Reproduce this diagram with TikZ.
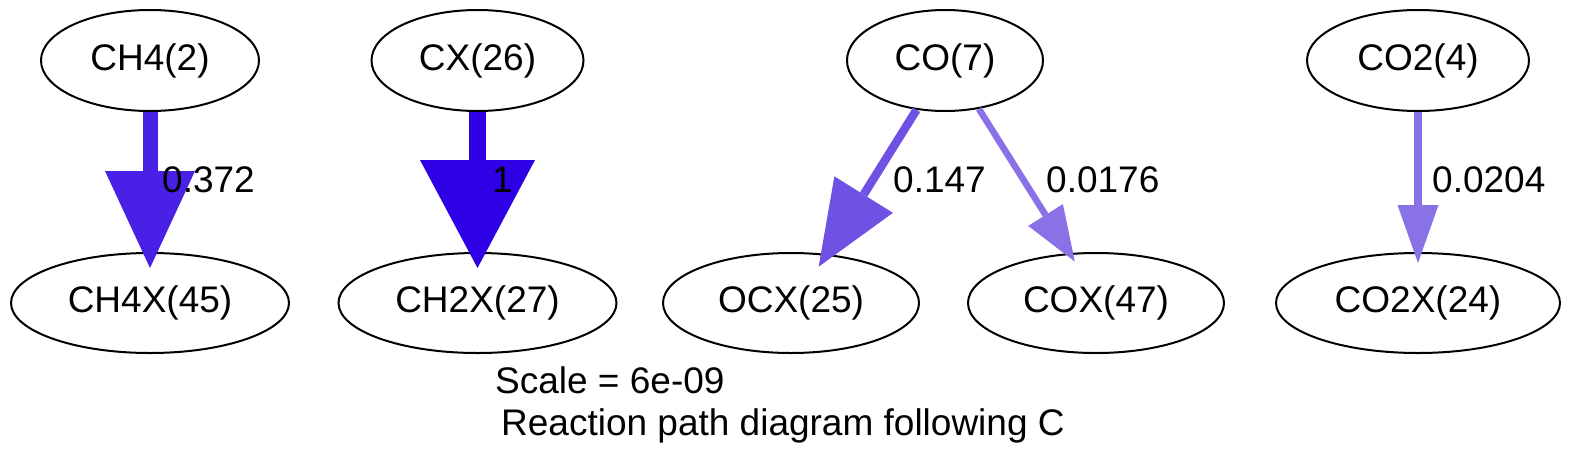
\documentclass[tikz,border=0pt]{standalone}
\usepackage{fontspec}
\setmainfont{Liberation Sans}
\usetikzlibrary{shapes.geometric,arrows.meta}
\definecolor{fluxA}{RGB}{72,32,230}
\definecolor{fluxB}{RGB}{46,0,230}
\definecolor{fluxC}{RGB}{111,82,228}
\definecolor{fluxD}{RGB}{138,114,230}
\definecolor{fluxE}{RGB}{137,114,230}
\tikzset{
  species/.style={ellipse, draw=black, line width=2pt, inner sep=0pt,
    font=\fontsize{37}{44}\selectfont},
  toprow/.style={minimum height=101pt},
  botrow/.style={minimum height=100pt},
  flux/.style={font=\fontsize{37}{44}\selectfont, anchor=base west, inner sep=0pt},
  title/.style={font=\fontsize{37}{44}\selectfont, anchor=base west, inner sep=0pt},
}
\begin{document}
\begin{tikzpicture}[x=1pt,y=-1pt]
\useasboundingbox[fill=white] (0,0) rectangle (1572,469);
% top row
\node[species,toprow,minimum width=218pt] (ch4) at (150,60.5) {CH4(2)};
\node[species,toprow,minimum width=212pt] (cx) at (477.5,60.5) {CX(26)};
\node[species,toprow,minimum width=196pt] (co) at (945,60.5) {CO(7)};
\node[species,toprow,minimum width=222pt] (co2) at (1418,60.5) {CO2(4)};
% bottom row
\node[species,botrow,minimum width=278pt] (ch4x) at (150,303) {CH4X(45)};
\node[species,botrow,minimum width=278pt] (ch2x) at (477.5,303) {CH2X(27)};
\node[species,botrow,minimum width=256pt] (ocx) at (791,303) {OCX(25)};
\node[species,botrow,minimum width=256pt] (cox) at (1096,303) {COX(47)};
\node[species,botrow,minimum width=284pt] (co2x) at (1418,303) {CO2X(24)};
% edges
\draw[fluxA, line width=15pt, shorten >=-16pt,
  -{Triangle[length=97pt,width=90pt,line width=0pt]}] (ch4.south) -- (ch4x.north);
\draw[fluxB, line width=17pt, shorten >=-16pt,
  -{Triangle[length=108pt,width=115pt,line width=0pt]}] (cx.south) -- (ch2x.north);
\draw[fluxC, line width=8.5pt, shorten >=-15pt,
  -{Triangle[length=85pt,width=69pt,line width=0pt]}] (co.240) -- (ocx.54);
\draw[fluxD, line width=6.5pt, shorten >=-10pt,
  -{Triangle[length=55pt,width=41pt,line width=0pt]}] (co.305) -- (cox.118);
\draw[fluxE, line width=8pt, shorten >=-11pt,
  -{Triangle[length=58pt,width=41pt,line width=0pt]}] (co2.south) -- (co2x.north);
% edge labels
\node[flux] (l1) at (162,192) {0.372};
\node[flux] (l2) at (492,192) {1};
\node[flux] (l3) at (893,192) {0.147};
\node[flux] (l4) at (1046,192) {0.0176};
\node[flux] (l5) at (1432,192) {0.0204};
% caption
\node[title] (scale) at (495,393) {Scale = 6e-09};
\node[title] (cap) at (501,435) {Reaction path diagram following C};
\end{tikzpicture}
\end{document}
